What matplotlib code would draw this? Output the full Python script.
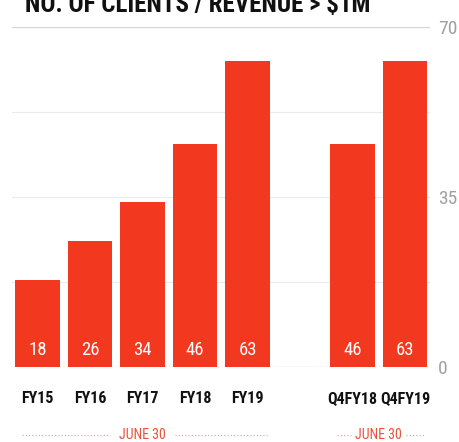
import matplotlib
matplotlib.use("Agg")
import matplotlib.pyplot as plt
from matplotlib import font_manager

# data
categories = ["FY15", "FY16", "FY17", "FY18", "FY19", "Q4FY18", "Q4FY19"]
clients = [18, 26, 34, 46, 63, 46, 63]
positions = [0, 1, 2, 3, 4, 6, 7]
groups = [[0, 1, 2, 3, 4], [6, 7]]
group_label = "JUNE 30"
y_ticks = [0, 35, 70]
title = "NO. OF CLIENTS / REVENUE > $1M"

# narrowest family that is installed
names = {f.name for f in font_manager.fontManager.ttflist}
wanted = ["Roboto Condensed", "Open Sans Condensed", "DejaVu Sans Condensed",
          "Liberation Sans Narrow", "Roboto", "Liberation Sans"]
fam = next((n for n in wanted if n in names), "DejaVu Sans")
plt.rcParams["font.family"] = [fam, "DejaVu Sans"]
k = 1.0 if fam in wanted[:4] else 0.8

red = "#f2381f"

fig = plt.figure(figsize=(4.6, 4.42), dpi=100)
ax = fig.add_axes([12 / 460, 1 - 367 / 442, 418 / 460, 340 / 442])

ax.bar(positions, clients, width=0.84, color=red, zorder=3)
for x, v in zip(positions, clients):
    ax.text(x, 3.4, str(v), ha="center", va="center", color="white",
            fontsize=13.5 * k, zorder=4)

ax.set_ylim(0, 70)
ax.set_xlim(-0.486, 7.476)
for y in [17.5, 35, 52.5]:
    ax.axhline(y, color="#ebebeb", lw=0.8, zorder=1)
ax.axhline(70, color="#d4d4d4", lw=0.9, zorder=1)
ax.axhline(0, color="#c8c8c8", lw=0.9, zorder=2)

for s in ax.spines.values():
    s.set_visible(False)
ax.yaxis.tick_right()
ax.set_yticks(y_ticks)
ax.set_yticklabels([str(t) for t in y_ticks], color="#a0a0a0", fontsize=14 * k)
ax.tick_params(axis="y", length=0, pad=6)
ax.set_xticks(positions)
ax.set_xticklabels(categories, fontsize=11.5 * k, fontweight="bold", color="#111111")
ax.tick_params(axis="x", length=0, pad=17)

trans = ax.get_xaxis_transform()
for g, gap in zip(groups, [0.62, 0.52]):
    lo, hi = g[0] - 0.3, g[-1] + 0.38
    mid = (g[0] + g[-1]) / 2
    ax.text(mid, -0.2, group_label, transform=trans, ha="center", va="center",
            color="#e8503a", fontsize=10 * k)
    for a, b in [(lo, mid - gap), (mid + gap, hi)]:
        ax.plot([a, b], [-0.2, -0.2], transform=trans, clip_on=False,
                color="#d9b0a8", lw=0.9, linestyle=(0, (1, 1.6)))

fig.text(25 / 460, 1 - 12 / 442, title, ha="left", va="baseline",
         fontsize=18 * k, fontweight="bold", color="#111111")

fig.savefig("out.png", dpi=100)
